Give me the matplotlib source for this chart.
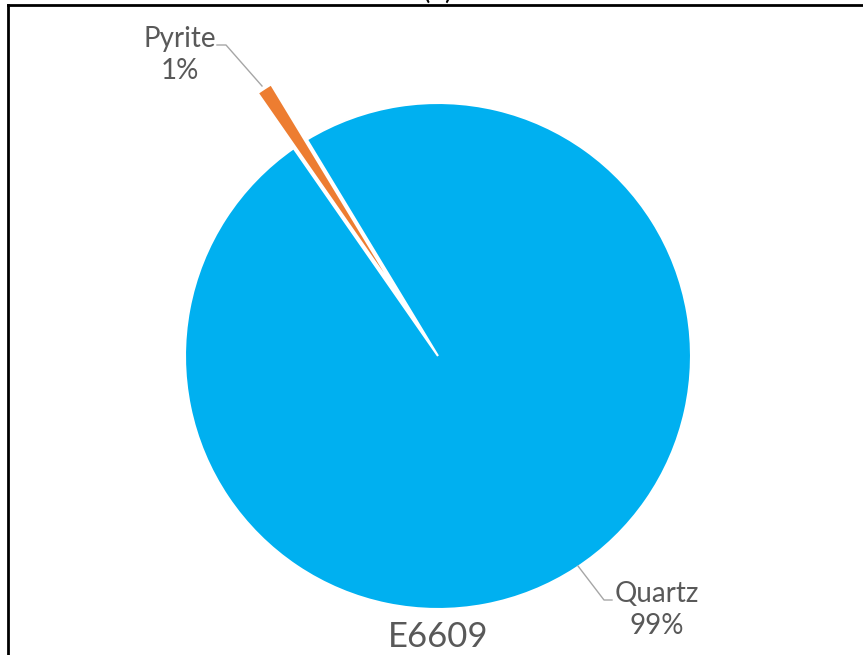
import matplotlib.pyplot as plt

# mineral composition of sample E6609
minerals = ["Quartz", "Pyrite"]
shares = [99, 1]
colors = ["#00B0F0", "#ED7D31"]
sample = "E6609"

W, H = 863, 655
fig = plt.figure(figsize=(W / 100, H / 100), dpi=100)
ax = fig.add_axes([0, 0, 1, 1])

cx, cy, r = 438, H - 356, 253
# explode is in data units here, so scale by the radius
ax.pie(shares, colors=colors, center=(cx, cy), radius=r,
       startangle=121.2, counterclock=False, explode=[0, 0.26 * r],
       wedgeprops=dict(edgecolor="white", linewidth=1.5), frame=True)
ax.set_xlim(0, W)
ax.set_ylim(0, H)
ax.set_aspect("equal")
ax.axis("off")

txt = "#595959"
font = "Lato"
total = sum(shares)

# data labels with leader lines
ax.plot([217, 226, 262], [H - 45, H - 45, H - 86], color="#A6A6A6", lw=1)
ax.text(180, H - 55, f"{minerals[1]}\n{shares[1] / total:.0%}", ha="center", va="center",
        ma="center", fontsize=20, color=txt, family=font, linespacing=1.25)
ax.plot([578, 604, 612], [H - 566, H - 600, H - 600], color="#A6A6A6", lw=1)
ax.text(657, H - 610, f"{minerals[0]}\n{shares[0] / total:.0%}", ha="center", va="center",
        ma="center", fontsize=20, color=txt, family=font, linespacing=1.25)

ax.text(438, H - 637, sample, ha="center", va="center", fontsize=25, color=txt, family=font)

# panel letter, mostly above the frame
fig.text(438 / W, 1 + 1 / H, "(b)", ha="center", va="baseline", fontsize=20, color="black", family=font)

# frame lines (top and left)
fig.add_artist(plt.Line2D([8 / W, 1], [1 - 5 / H, 1 - 5 / H], color="black", lw=2))
fig.add_artist(plt.Line2D([8 / W, 8 / W], [0, 1 - 5 / H], color="black", lw=2))

fig.savefig("out.png", dpi=100, facecolor="white")
